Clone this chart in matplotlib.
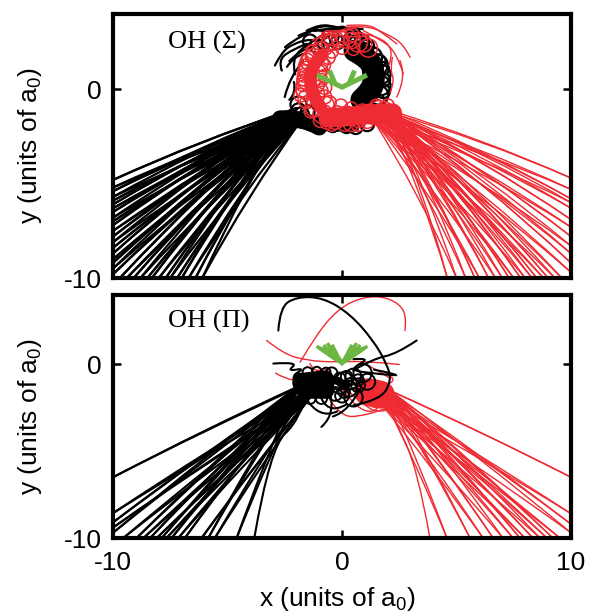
import matplotlib
matplotlib.use("Agg")
import matplotlib.pyplot as plt
from matplotlib.path import Path
from matplotlib.patches import PathPatch, Ellipse

plt.rcParams['font.family'] = ['Liberation Sans', 'DejaVu Sans']
plt.rcParams['mathtext.fontset'] = 'custom'
plt.rcParams['mathtext.rm'] = 'Liberation Sans'
plt.rcParams['mathtext.it'] = 'Liberation Sans'
plt.rcParams['mathtext.default'] = 'regular'
plt.rcParams['axes.unicode_minus'] = False

BLACK = '#000000'
RED = '#ee2a32'
GREEN = '#6cb644'
W, H = 590, 616

# ---------- top panel: OH (Sigma) ----------
top_black_left_y = [-4.8, -5.2, -5.4, -5.7, -5.9, -6.1, -6.3, -6.5, -6.8, -7.0, -7.2, -7.5, -7.8, -8.1, -8.4, -8.7, -9.0, -9.2, -9.5, -9.8]
top_black_bottom_x = [-9.7, -9.4, -9.1, -8.8, -8.5, -8.3, -8.0, -7.7, -7.5, -7.2, -7.0, -6.7, -6.4, -6.1]
top_black_starts = [(-2.2, -1.1), (-1.9, -1.3), (-2.0, -1.0), (-1.7, -1.5), (-2.1, -1.3)]
top_red_right_y = [-4.7, -5.3, -5.8, -6.0, -6.3, -6.9, -7.3, -7.8, -8.3, -8.7, -9.2, -9.7]
top_red_bottom_x = [4.6, 5.0, 5.4, 5.8, 6.0, 6.4, 6.7, 7.0, 7.3, 7.5, 7.8, 8.0, 8.3, 8.5, 8.8, 9.0, 9.3, 9.6]
top_red_starts = [(2.0, -1.2), (1.6, -1.3), (1.8, -1.0), (1.3, -1.5), (2.1, -1.3)]

top_black_wisps = [
    [(-2.93, 1.27), (-2.63, 1.98), (-2.13, 2.42), (-1.40, 2.68), (-0.82, 2.59)],
    [(-2.63, 1.0), (-2.78, 1.53), (-2.27, 2.06), (-1.54, 2.42)],
    [(-2.49, 2.24), (-2.13, 2.59), (-1.54, 2.95), (-0.96, 3.39), (-0.09, 3.3), (0.93, 2.95)],
    [(-1.54, 3.12), (-0.96, 3.47), (-0.23, 3.3), (0.49, 3.12), (1.22, 2.5)],
    [(-2.5, -0.4), (-2.3, 0.65), (-1.7, 1.5)],
    [(-2.3, 1.5), (-1.9, 2.0), (-1.2, 2.3), (-.5, 2.9)],
    [(-1.2, 3.1), (-.6, 3.25), (.2, 3.25), (.9, 3.2)],
    [(-2.05, .8), (-2.2, 1.6), (-1.6, 2.35), (-1.0, 2.75)],
    [(-2.4, 1.2), (-2.1, 1.75), (-1.65, 1.9)],
    [(-1.9, 2.85), (-1.3, 3.2), (-.7, 3.05), (-.1, 3.15)],
    [(-2.3, -.55), (-2.0, -.2), (-2.1, .4)],
]
top_red_wisps = [
    [(2.97, 1.71), (2.68, 2.42), (1.95, 2.95), (1.08, 3.39), (0.2, 3.3)],
    [(2.68, 0.83), (2.39, 1.89), (1.8, 2.59), (0.93, 3.12)],
    [(2.39, -0.41), (2.82, 0.65), (2.53, 1.53)],
    [(0.2, 3.39), (1.08, 3.47), (1.66, 3.12), (2.39, 2.42)],
    [(2.05, 1.3), (2.3, 2.1), (1.5, 2.9), (.6, 3.0)],
    [(-1.3, 2.6), (-.7, 3.0), (.0, 3.0), (.7, 3.3)],
    [(2.1, -.2), (2.3, .5), (2.1, 1.0), (2.2, 1.7)],
    [(-.9, 3.0), (-.2, 2.85), (.6, 2.75), (1.3, 2.9)],
]
top_black_bulk = [
    ([(0.55, 2.05), (1.25, 1.6), (1.4, 0.8), (1.35, 0.0), (0.85, -0.55)], 16),
    ([(-2.7, -1.55), (-1.7, -1.5), (-1.0, -2.0)], 12),
    ([(-.9, -2.0), (-.2, -2.1), (0.6, -2.05)], 5),
]
top_black_loops = [
    (1.55, 1.3, .45), (1.7, .8, .42), (1.7, .2, .42), (1.6, -.3, .42), (1.3, 1.7, .45), (.9, 2.0, .4),
    (-.5, 2.8, .35), (0, 2.9, .35), (.5, 2.8, .35), (-1, -1.8, .3), (-.4, -1.9, .3), (.2, -1.95, .3),
    (-1.5, -1.2, .3), (-1.9, -1.1, .3), (-.8, 2.5, .3), (.9, 2.55, .3), (-1.1, 2.3, .3),
    (-.2, 2.5, .3), (.3, 2.55, .3), (.6, 2.45, .3), (1.1, 2.3, .3), (1.6, 1.5, .3), (1.75, 1.1, .3), (1.8, .5, .3), (1.8, -.1, .3), (1.55, -.6, .3),
    (-1.9, -.8, .35), (-1.75, -1.3, .3), (.6, -2.0, .3), (1.1, -1.85, .3), (-1.4, 2.55, .3),
]
top_red_loops = [
    (-1.55, .5, .42), (-1.5, 1.0, .42), (-1.4, 1.5, .42), (-1.15, 1.9, .42), (-.8, 2.3, .42), (-.35, 2.6, .42),
    (.2, 2.7, .42), (.7, 2.5, .42), (1.15, 2.2, .4), (-1.6, 0, .42), (-1.5, -.5, .42), (-1.2, -.95, .42),
    (-.85, -1.3, .42), (-1.1, .3, .35), (-1.05, .9, .35), (-.95, 1.4, .35), (-1.1, -.3, .35), (-.7, -.8, .35),
    (-1.7, .25, .3), (-1.65, .75, .3), (-1.6, 1.25, .3), (-.3, -1.6, .42), (.2, -1.4, .42), (.7, -1.5, .42),
    (1.2, -1.3, .42), (1.6, -1.1, .42), (.4, -1.8, .35), (-.2, -1.3, .35), (.9, -1.2, .35), (1.4, -1.5, .3),
    (-1.3, 2.0, .3), (-.6, 2.75, .3), (.45, 2.9, .3), (-1.8, -.3, .3), (-.45, -1.85, .3), (1.85, -1.0, .3),
    (-1.25, 1.75, .35), (-.95, 2.1, .35), (-.55, 2.45, .35), (-.1, 2.7, .35), (.45, 2.6, .35), (.95, 2.4, .35),
    (-1.75, -.1, .25), (-1.7, .5, .25), (-1.65, 1.0, .25), (-1.5, 1.6, .25), (-1.6, -.7, .25), (-1.35, -1.15, .3),
    (-.95, -1.65, .3), (-.65, -1.75, .3), (.1, -1.85, .3), (.7, -1.85, .3), (1.1, -1.7, .3),
    (-.8, 1.3, .3), (-.75, .7, .3), (-.75, .1, .3), (-.75, -.4, .3), (-.6, 1.7, .3), (-.55, -.7, .3),
    (-.9, 1.0, .28), (-.9, .5, .28), (-.9, -.05, .28), (-.45, 2.0, .28), (0, 2.2, .28), (.5, 2.15, .28),
    (2.0, -.85, .28), (1.5, -.85, .28), (-.05, -.85, .28), (.4, -1.0, .28),
]
top_red_bulk = [
    ([(-.6, -1.5), (.3, -1.45), (1.2, -1.3), (2.2, -1.25)], 14),
    ([(-.85, 1.85), (-1.35, 1.2), (-1.4, .4), (-1.3, -.3), (-.9, -1.0)], 9),
]
top_green = [
    [(-1.09, 0.76), (0, 0.12), (1.09, 0.76)],
    [(-0.32, 0.35), (-0.55, 1.0)],
    [(0.32, 0.35), (0.55, 1.0)],
]

# ---------- bottom panel: OH (Pi) ----------
bot_black_left_y = [-6.5, -8.57, -9.1, -9.4, -9.7]
bot_black_bottom_x = [-9.55, -8.97, -8.67, -8.38, -8.09, -7.87, -7.66, -7.44, -7.15, -6.86, -6.13, -5.84, -5.55, -4.6]
bot_black_starts = [(-1.97, -1.3), (-1.5, -1.5), (-1.7, -1.2), (-1.2, -1.6), (-1.9, -1.5), (-1.4, -1.9)]
bot_red_right_y = [-6.5, -8.6, -9.2, -9.7]
bot_red_bottom_x = [4.58, 5.59, 6.16, 6.6, 7.03, 7.47, 7.77, 7.99, 8.34, 8.65, 8.95, 9.21, 9.52]
bot_red_starts = [(2.1, -1.5), (1.8, -1.9), (1.9, -1.4), (1.6, -2.1), (2.0, -1.7)]
bot_black_curves = [
    [(-2.78, 1.95), (-2.71, 3.3), (-1.98, 3.9), (-0.82, 3.85), (0.35, 2.91), (1.37, 1.38), (1.95, 0.04), (2.17, -0.92), (1.66, -2.07), (0.49, -2.36)],
    [(3.26, 1.38), (2.39, 0.61), (1.37, 0.33), (0.49, -0.34)],
    [(-3.83, -10), (-3.14, -4.77), (-1.83, -3.2), (-1.5, -1.5)],
    [(-3.0, 0.05), (-1.9, 0.15), (-2.4, -.4), (-1.6, -.2), (-2.3, -.75), (-1.6, -.7)],
    [(.5, .3), (1.3, .4), (.3, -.3), (1.2, -.5), (2.9, -.7), (1.4, -.3)],
    [(-1.6, -1.9), (-1.0, -3.2), (-.2, -2.7)],
    [(-1.0, -1.6), (-.7, -3.0), (.2, -2.3)],
    [(-.6, -1.3), (-.2, -2.8), (-.9, -3.6)],
    [(.8, -1.4), (.3, -2.7), (-.4, -3.0)],
]
bot_black_bulk = [
    ([(-1.75, -1.05), (-1.2, -.95), (-.75, -.9)], 14),
    ([(-1.6, -1.5), (-1.1, -1.5), (-.7, -1.5)], 12),
    ([(-.5, -.9), (.0, -1.0), (.2, -1.2)], 5),
]
bot_black_loops = [(.1, -.9, .35), (.5, -.7, .35), (.9, -.5, .4), (.3, -1.4, .35), (-.1, -1.3, .3),
                   (.7, -1.2, .3), (-.3, -1.7, .3), (1.1, -1.0, .35), (.0, -1.8, .3), (.5, -1.9, .4),
                   (.2, -.7, .25), (-.1, -.8, .25), (.4, -1.1, .25), (.7, -.9, .25), (.1, -1.6, .25), (-.2, -1.1, .25),
                   (-1.9, -.8, .22), (-1.5, -.45, .22), (-1.1, -.4, .2), (-.7, -.45, .2), (-.9, -1.95, .25), (-1.4, -1.95, .25), (-.45, -.5, .25)]
bot_red_curves = [
    [(-3.29, 1.38), (-2.56, 0.61), (-1.54, 0.23), (-0.38, 0.13), (1.0, .2), (2.5, 0.0)],
    [(-1.83, 0.13), (-1.1, 1.76), (-0.23, 3.1), (0.64, 3.77), (1.66, 3.97), (2.53, 3.49), (2.82, 2.72), (2.75, 1.95)],
    [(-.9, -1.2), (-.2, -3.0), (1.0, -3.0), (2.2, -2.4)],
    [(0, -1.4), (.7, -2.7), (1.7, -2.7), (1.6, -1.9)],
    [(.1, -1.2), (.6, -2.2), (1.5, -2.5)],
    [(-2.9, -.5), (-2.2, -1.1), (-1.2, -.9)],
    [(-1.4, .05), (-1.2, -.5), (-.6, -.1), (-.3, -1)],
    [(.9, .1), (1.4, -.2), (2.1, -.8)],
    [(3.84, -10), (3.3, -6.0), (2.3, -3.2), (1.9, -1.8)],
    [(2.0, -.6), (2.5, -.9), (1.9, -1.2)],
    [(.9, -2.2), (1.4, -2.9), (2.0, -2.6)],
]
bot_red_bulk = [([(1.15, -1.6), (1.4, -1.65), (1.7, -1.75)], 20)]
bot_green = [
    [(-1.0, 0.95), (0, 0.05)], [(-1.05, 1.0), (-.3, .5), (0, 0.1)], [(-.9, .85), (-.3, .3), (0, 0.15)],
    [(1.0, 0.95), (0, 0.05)], [(1.05, 1.0), (.3, .5), (0, 0.1)], [(.9, .85), (.3, .3), (0, 0.15)],
    [(-0.6, 1.15), (-.15, .2)], [(0.6, 1.15), (.15, .2)], [(-.4, 1.05), (-.05, .15)], [(.4, 1.05), (.05, .15)],
    [(-.75, 1.05), (-.2, .3)], [(.75, 1.05), (.2, .3)], [(-.5, .85), (-.1, .3)], [(.5, .85), (.1, .3)],
    [(-.85, .9), (-.3, .55)], [(.85, .9), (.3, .55)],
]
x_tick_values = [-10, 0, 10]
y_tick_values = [-10, 0]


def smooth(ax, pts, color, lw, z=2):
    verts, codes = [pts[0]], [Path.MOVETO]
    for i in range(1, len(pts) - 1):
        end = pts[i + 1] if i == len(pts) - 2 else ((pts[i][0] + pts[i + 1][0]) / 2, (pts[i][1] + pts[i + 1][1]) / 2)
        verts += [pts[i], end]
        codes += [Path.CURVE3, Path.CURVE3]
    if len(pts) == 2:
        verts.append(pts[1]); codes.append(Path.LINETO)
    ax.add_patch(PathPatch(Path(verts, codes), fc='none', ec=color, lw=lw, zorder=z, capstyle='round'))


def fan(ax, side, edge_y, bottom_x, starts, color, lw, z, bow, offsets):
    ends = [(side, v) for v in edge_y] + [(v, -10) for v in bottom_x]
    for i, e in enumerate(ends):
        for k in offsets:
            s = starts[(i + k) % len(starts)]
            mid = ((s[0] + e[0]) / 2 + bow * (1 if side > 0 else -1), (s[1] + e[1]) / 2 + bow)
            smooth(ax, [s, mid, e], color, lw, z)


def loops(ax, items, color, lw, aspect, z):
    for cx, cy, r in items:
        ax.add_patch(Ellipse((cx, cy), 2 * r, 2 * r * aspect, fc='none', ec=color, lw=lw, zorder=z))


def frame(ax):
    ax.set_xlim(-10, 10)
    ax.set_ylim(-10, 4)
    ax.set_xticks(x_tick_values)
    ax.set_yticks(y_tick_values)
    ax.tick_params(direction='in', top=True, right=True, length=6, width=1.8, labelsize=19)
    ax.tick_params(axis='y', pad=8)
    ax.tick_params(axis='x', pad=9)
    for s in ax.spines.values():
        s.set_linewidth(3.0)
        s.set_zorder(10)
    ax.set_ylabel('y (units of a$_0$)', fontsize=19)
    ax.yaxis.set_label_coords((44 - 113) / 458, 0.5)


fig = plt.figure(figsize=(W / 100, H / 100), dpi=100)
ax1 = fig.add_axes([113 / W, 1 - 278 / H, 458 / W, 264 / H])
ax2 = fig.add_axes([113 / W, 1 - 538 / H, 458 / W, 243 / H])
frame(ax1)
frame(ax2)
ax1.tick_params(labelbottom=False)
ax2.set_xlabel('x (units of a$_0$)', fontsize=19)
ax2.xaxis.set_label_coords((337 - 113) / 458, (538 - 585) / 243)
serif = ['Liberation Serif', 'DejaVu Serif']
ax1.text(168 / W, 1 - 42 / H, 'OH (Σ)', transform=fig.transFigure, family=serif, fontsize=19, va='center')
ax2.text(168 / W, 1 - 321 / H, 'OH (Π)', transform=fig.transFigure, family=serif, fontsize=19, va='center')

# top panel
a1 = 22.9 / 18.9
fan(ax1, -10, top_black_left_y, top_black_bottom_x, top_black_starts, BLACK, 1.6, 2, 0.2, (0, 2))
for p in top_black_wisps:
    smooth(ax1, p, BLACK, 1.6, 2)
for p, w in top_black_bulk:
    smooth(ax1, p, BLACK, w, 2)
loops(ax1, top_black_loops, BLACK, 1.6, a1, 2)
fan(ax1, 10, top_red_right_y, top_red_bottom_x, top_red_starts, RED, 1.0, 3, 0.25, (0, 2))
for p in top_red_wisps:
    smooth(ax1, p, RED, 1.0, 3)
for p, w in top_red_bulk:
    smooth(ax1, p, RED, w, 3)
loops(ax1, top_red_loops, RED, 1.1, a1, 3)
for p in top_green:
    ax1.plot(*zip(*p), color=GREEN, lw=3.6, zorder=4, solid_capstyle='butt', solid_joinstyle='miter')

# bottom panel
a2 = 22.9 / 17.4
fan(ax2, 10, bot_red_right_y, bot_red_bottom_x, bot_red_starts, RED, 1.0, 2, 0.1, (0, 2))
for p in bot_red_curves:
    smooth(ax2, p, RED, 1.0, 2)
for p, w in bot_red_bulk:
    smooth(ax2, p, RED, w, 2)
fan(ax2, -10, bot_black_left_y, bot_black_bottom_x, bot_black_starts, BLACK, 1.5, 3, 0.1, (0, 2))
for p in bot_black_curves:
    smooth(ax2, p, BLACK, 1.5, 3)
for p, w in bot_black_bulk:
    smooth(ax2, p, BLACK, w, 3)
loops(ax2, bot_black_loops, BLACK, 1.4, a2, 3)
for p in bot_green:
    ax2.plot(*zip(*p), color=GREEN, lw=2.4, zorder=4)

fig.savefig('out.png', dpi=100)
